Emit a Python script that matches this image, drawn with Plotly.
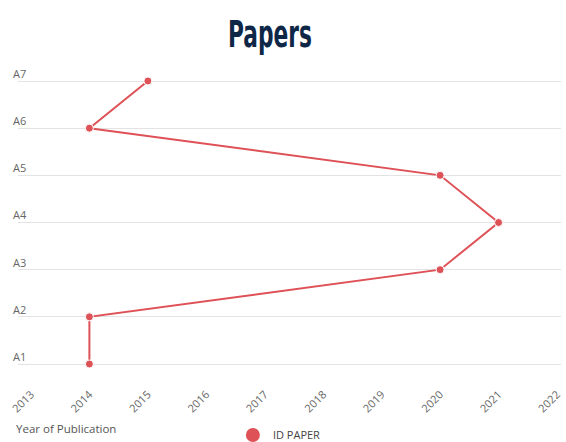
import plotly.graph_objects as go

papers = ["A1", "A2", "A3", "A4", "A5", "A6", "A7"]
years = [2014, 2014, 2020, 2021, 2020, 2014, 2015]
year_ticks = list(range(2013, 2023))

W, H = 566, 442
L, R, T, B = 18, 3, 58, 67  # plot area: x 18..563, y 58..375
color = "#de5157"

fig = go.Figure()
fig.add_trace(go.Scatter(
    x=years, y=papers, mode="lines+markers",
    line=dict(color=color, width=2),
    marker=dict(color=color, size=8, line=dict(color="white", width=1)),
    showlegend=False, name="ID PAPER",
))
fig.add_trace(go.Scatter(
    x=[None], y=[None], mode="markers", name="ID PAPER",
    marker=dict(color=color, size=14), showlegend=True,
))

X2013, X2022 = 31.0, 559.0
px_per_year = (X2022 - X2013) / 9.0
x0 = 2013 - (X2013 - L) / px_per_year
x1 = 2022 + (W - R - X2022) / px_per_year
px_per_cat = (364 - 81) / 6.0
plot_bottom = H - B
y0 = 0 - (plot_bottom - 364) / px_per_cat
y1 = 6 + (81 - T) / px_per_cat

fig.update_layout(
    width=W, height=H,
    margin=dict(l=L, r=R, t=T, b=B),
    paper_bgcolor="white", plot_bgcolor="white",
    font=dict(family="Open Sans, sans-serif", size=11, color="#666666"),
    title=dict(
        text="<b>Papers</b>",
        x=270 / W, xanchor="center", y=1 - 34 / H, yanchor="middle",
        font=dict(family="DejaVu Sans, sans-serif", size=38, color="#0f2747"),
    ),
    xaxis=dict(
        range=[x0, x1], tickmode="array", tickvals=year_ticks,
        ticktext=[str(v) for v in year_ticks], tickangle=-45,
        showgrid=False, zeroline=False, showline=False, ticks="",
        ticklabelstandoff=10, ticklabeloverflow="allow",
        tickfont=dict(size=11, color="#666666"),
    ),
    yaxis=dict(
        type="category", categoryorder="array", categoryarray=papers,
        range=[y0, y1], showgrid=True, gridcolor="#e3e3e3", gridwidth=1,
        zeroline=False, showline=False, ticks="",
        ticklabelposition="inside", ticklabelstandoff=-8, ticklabelshift=-7,
        tickfont=dict(size=11, color="#666666"),
    ),
    legend=dict(
        orientation="h", x=224 / W, xanchor="left", y=1 - 435 / H, yanchor="middle",
        yref="container", font=dict(size=11, color="#444444"),
        bgcolor="rgba(0,0,0,0)",
    ),
    annotations=[dict(
        text="Year of Publication", xref="paper", yref="paper",
        x=(14 - L) / (W - L - R), xanchor="left",
        y=-(428 - plot_bottom) / (H - T - B), yanchor="middle",
        showarrow=False, font=dict(size=11.5, color="#555555"),
    )],
)

# Condense the title horizontally to mimic the narrow display face.
post = """
var t = document.querySelector('.gtitle');
if (t) {
  var bb = t.getBBox();
  var cx = bb.x + bb.width / 2;
  var target = 84;
  var s = target / bb.width;
  t.setAttribute('transform', 'translate(' + cx + ',0) scale(' + s + ',1) translate(' + (-cx) + ',0)');
}
"""

fig.write_html("out.html", post_script=post)
